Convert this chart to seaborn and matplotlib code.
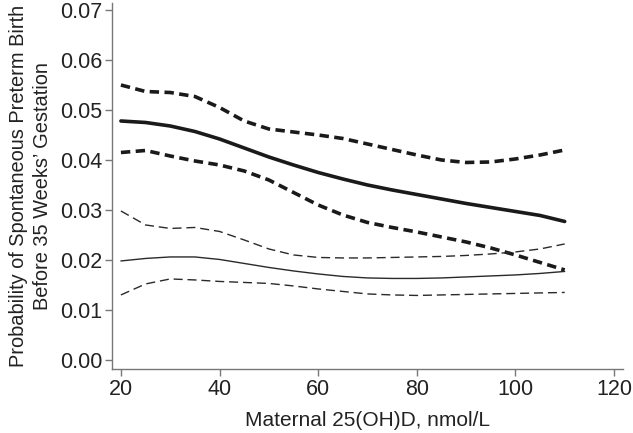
import seaborn as sns
import pandas as pd
import matplotlib.pyplot as plt

# maternal 25(OH)D grid, nmol/L
vitd = [20, 25, 30, 35, 40, 45, 50, 55, 60, 65, 70, 75, 80, 85, 90, 95, 100, 105, 110]

# black women (thick lines)
black_est = [0.0478, 0.0475, 0.0468, 0.0457, 0.0442, 0.0424, 0.0406, 0.0390, 0.0375, 0.0362,
             0.0350, 0.0340, 0.0331, 0.0322, 0.0313, 0.0305, 0.0297, 0.0289, 0.0277]
black_hi = [0.0550, 0.0537, 0.0535, 0.0527, 0.0505, 0.0478, 0.0462, 0.0456, 0.0450, 0.0443,
            0.0432, 0.0421, 0.0410, 0.0400, 0.0395, 0.0396, 0.0402, 0.0410, 0.0420]
black_lo = [0.0415, 0.0419, 0.0408, 0.0398, 0.0390, 0.0378, 0.0360, 0.0335, 0.0310, 0.0290,
            0.0275, 0.0265, 0.0256, 0.0246, 0.0236, 0.0224, 0.0210, 0.0195, 0.0180]

# white women (thin lines)
white_est = [0.0198, 0.0203, 0.0206, 0.0206, 0.0201, 0.0193, 0.0185, 0.0178, 0.0172, 0.0167,
             0.0164, 0.0163, 0.0163, 0.0164, 0.0166, 0.0168, 0.0170, 0.0173, 0.0177]
white_hi = [0.0298, 0.0270, 0.0263, 0.0265, 0.0257, 0.0240, 0.0222, 0.0210, 0.0205, 0.0204,
            0.0204, 0.0205, 0.0206, 0.0207, 0.0209, 0.0212, 0.0216, 0.0222, 0.0232]
white_lo = [0.0130, 0.0152, 0.0162, 0.0160, 0.0157, 0.0155, 0.0153, 0.0148, 0.0142, 0.0137,
            0.0132, 0.0130, 0.0129, 0.0130, 0.0131, 0.0132, 0.0133, 0.0134, 0.0135]

df = pd.DataFrame({
    "vitd": vitd,
    "black_est": black_est, "black_hi": black_hi, "black_lo": black_lo,
    "white_est": white_est, "white_hi": white_hi, "white_lo": white_lo,
})

sns.set_style("ticks")
plt.rcParams['font.family'] = ['Liberation Sans', 'DejaVu Sans']

fig = plt.figure(figsize=(6.33, 4.33), dpi=100)
ax = fig.add_axes([0.177, 0.148, 0.807, 0.845])

thick = dict(color="#1a1a1a", linewidth=2.6)
thin = dict(color="#2a2a2a", linewidth=1.0)

sns.lineplot(data=df, x="vitd", y="black_est", ax=ax, **thick)
sns.lineplot(data=df, x="vitd", y="black_hi", ax=ax, dashes=(2.6, 1.5), **thick)
sns.lineplot(data=df, x="vitd", y="black_lo", ax=ax, dashes=(2.6, 1.5), **thick)
sns.lineplot(data=df, x="vitd", y="white_est", ax=ax, **thin)
sns.lineplot(data=df, x="vitd", y="white_hi", ax=ax, dashes=(6.5, 3.5), **thin)
sns.lineplot(data=df, x="vitd", y="white_lo", ax=ax, dashes=(6.5, 3.5), **thin)

ax.set_xlim(18.2, 121.8)
ax.set_ylim(-0.0018, 0.0714)
ax.set_xticks([20, 40, 60, 80, 100, 120])
ax.set_yticks([0.00, 0.01, 0.02, 0.03, 0.04, 0.05, 0.06, 0.07])
ax.set_yticklabels([f"{v:.2f}" for v in ax.get_yticks()])

for side in ["top", "right"]:
    ax.spines[side].set_visible(False)
for side in ["left", "bottom"]:
    ax.spines[side].set_color("#777777")
    ax.spines[side].set_linewidth(1.0)

ax.tick_params(axis="both", length=5, width=1.0, color="#777777",
               labelsize=15.5, labelcolor="#222222", pad=2)

ax.set_xlabel("Maternal 25(OH)D, nmol/L", fontsize=15, color="#222222", labelpad=8)
ax.set_ylabel("Probability of Spontaneous Preterm Birth\nBefore 35 Weeks’ Gestation",
              fontsize=14.4, color="#222222", labelpad=6, linespacing=1.3)

fig.savefig("out.png", dpi=100)
